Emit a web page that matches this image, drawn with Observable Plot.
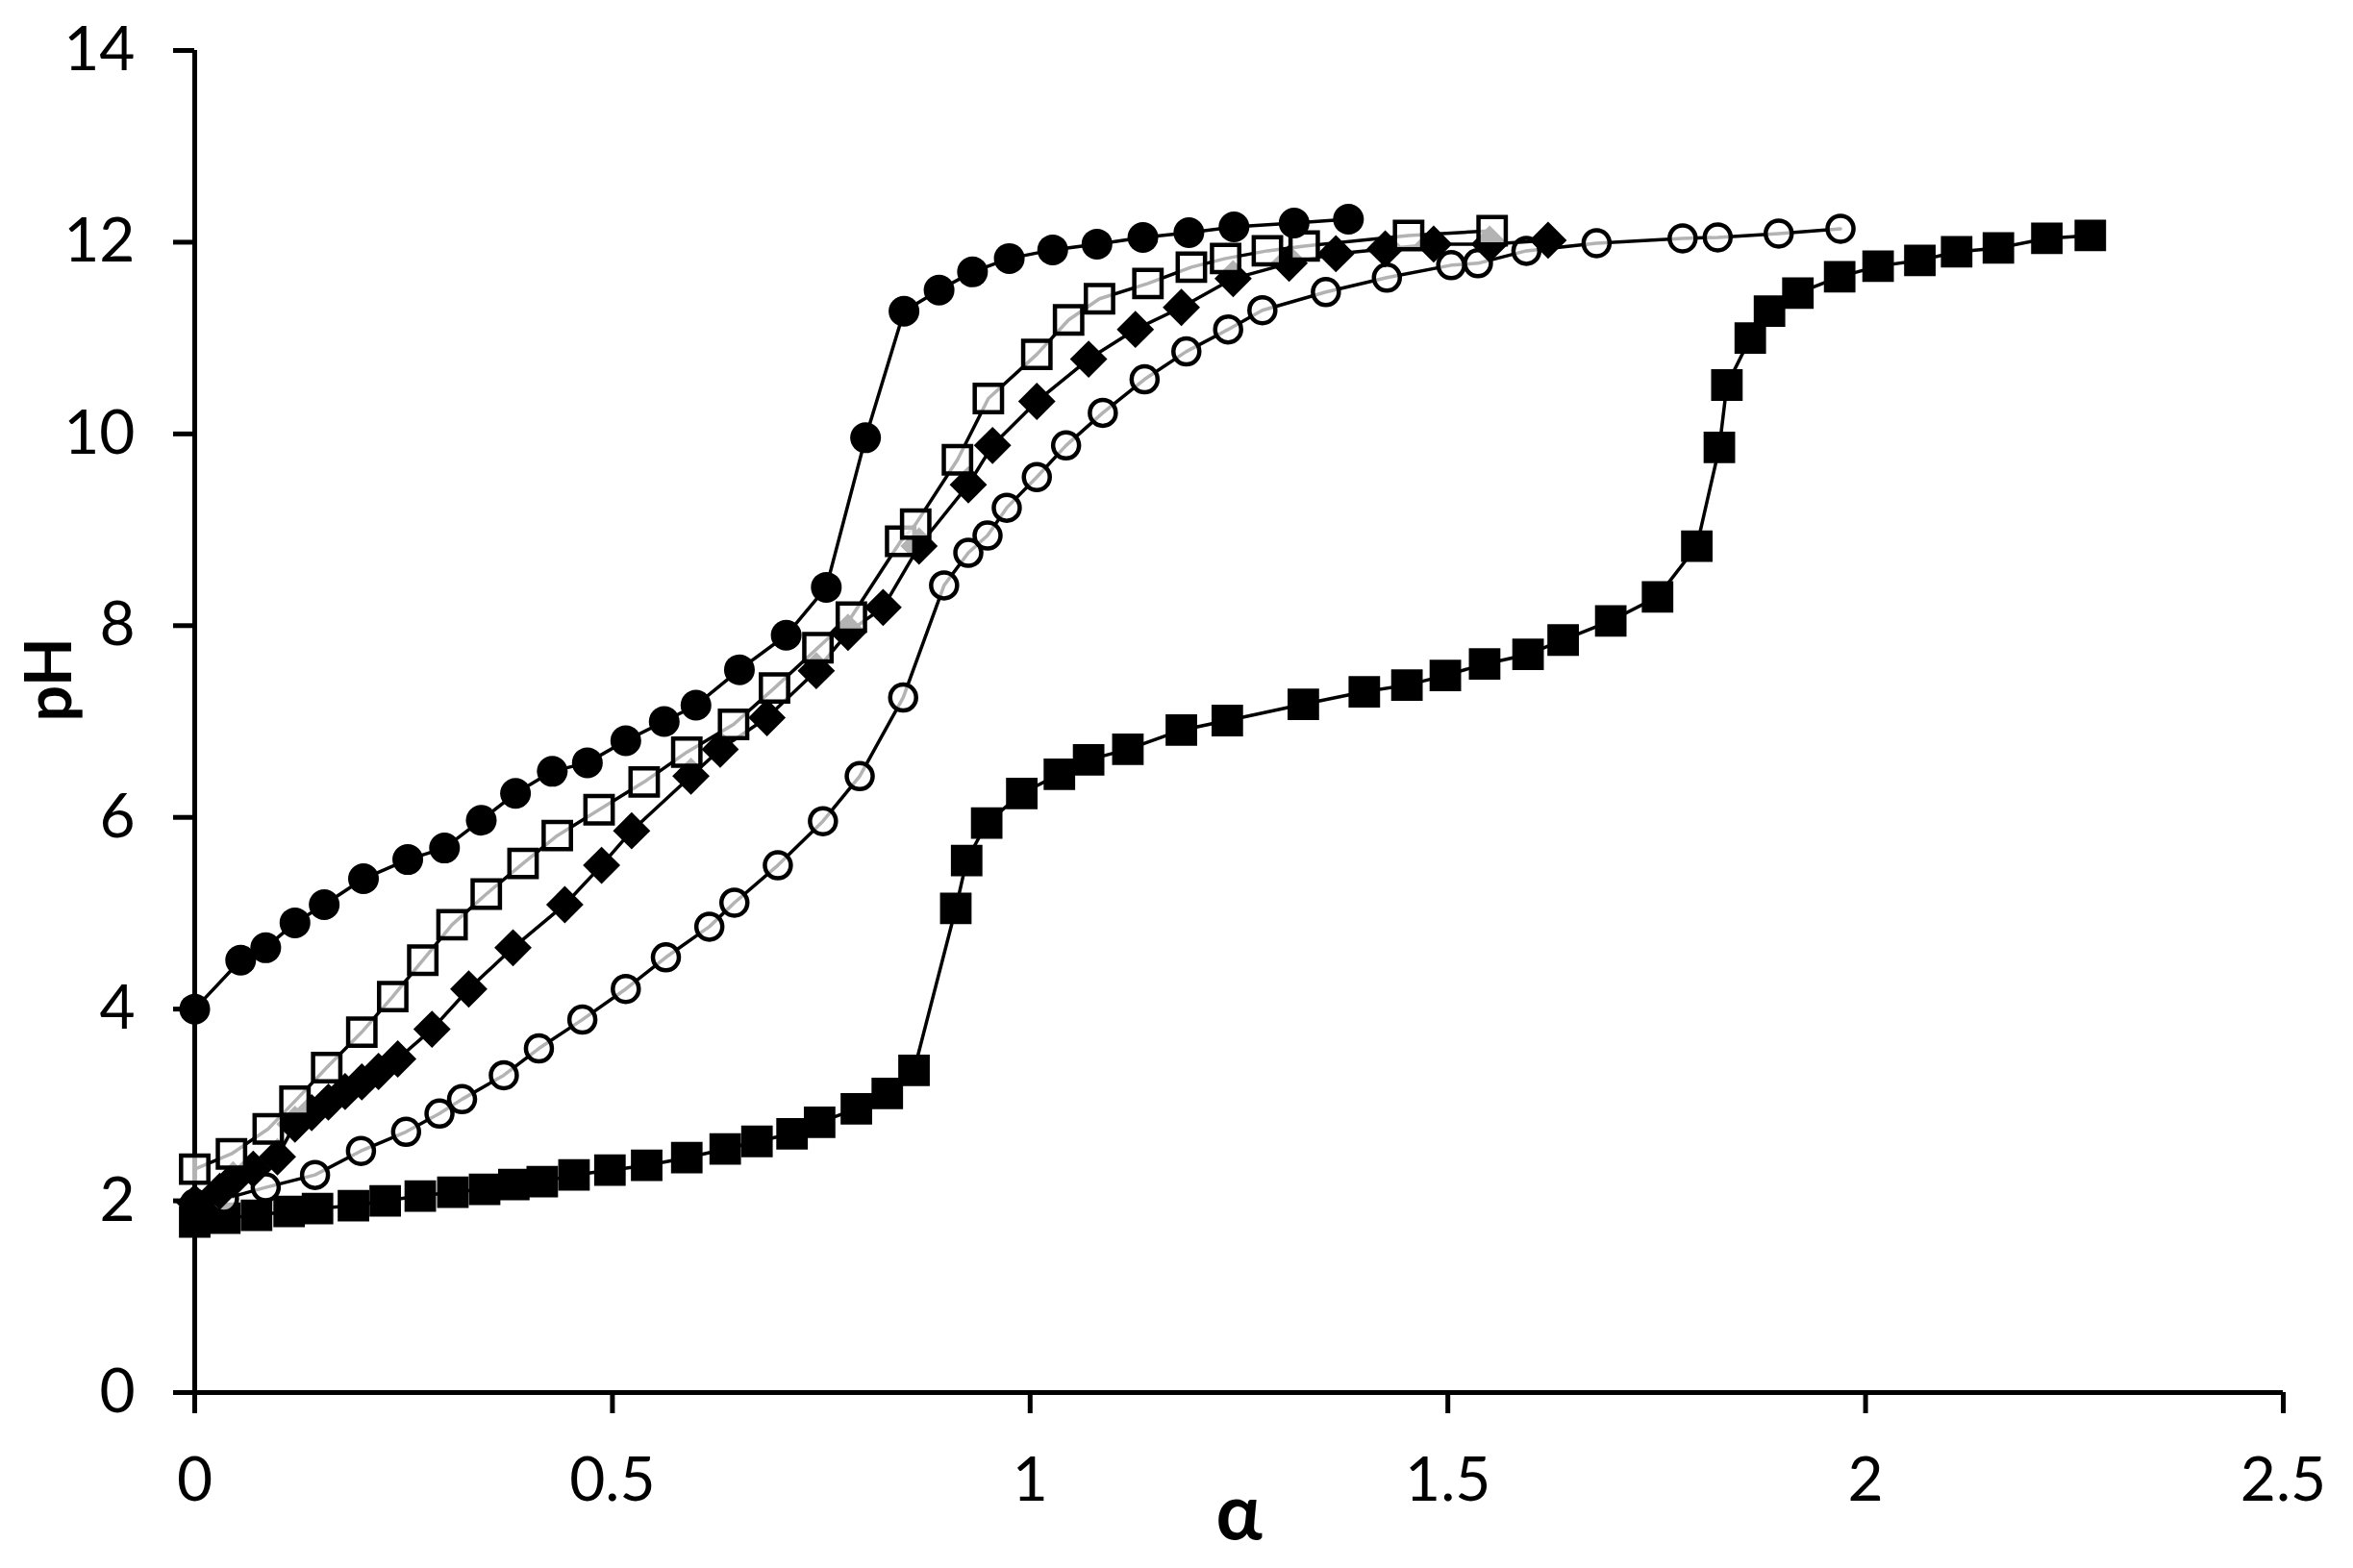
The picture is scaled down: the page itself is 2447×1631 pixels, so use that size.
<!DOCTYPE html>
<html>
<head>
<meta charset="utf-8">
<script src="https://cdn.jsdelivr.net/npm/d3@7"></script>
<script src="https://cdn.jsdelivr.net/npm/@observablehq/plot@0.6"></script>
<style>
  html, body { margin: 0; padding: 0; background: white; }
  #chart { width: 2447px; height: 1631px; }
</style>
</head>
<body>
<div id="chart"></div>
<script>
// ---- data ----
const xTicks = [0, 0.5, 1, 1.5, 2, 2.5];
const yTicks = [0, 2, 4, 6, 8, 10, 12, 14];

// filled circles
const alphaFilledCircle = [0, 0.055, 0.085, 0.12, 0.155, 0.202, 0.255, 0.299, 0.343, 0.384, 0.428, 0.47, 0.516, 0.562, 0.60, 0.652, 0.708, 0.756, 0.803, 0.849, 0.891, 0.931, 0.975, 1.027, 1.08, 1.135, 1.19, 1.244, 1.316, 1.381];
const phFilledCircle = [4.0, 4.51, 4.64, 4.9, 5.09, 5.36, 5.56, 5.68, 5.97, 6.25, 6.48, 6.57, 6.8, 7.0, 7.17, 7.54, 7.9, 8.4, 9.96, 11.28, 11.5, 11.69, 11.83, 11.92, 11.98, 12.05, 12.1, 12.16, 12.2, 12.24];

// open squares
const alphaOpenSquare = [0, 0.044, 0.088, 0.12, 0.158, 0.2, 0.237, 0.273, 0.308, 0.349, 0.393, 0.434, 0.484, 0.538, 0.589, 0.645, 0.694, 0.746, 0.786, 0.845, 0.863, 0.913, 0.950, 1.008, 1.046, 1.083, 1.141, 1.193, 1.234, 1.284, 1.328, 1.453, 1.553];
const phOpenSquare = [2.33, 2.49, 2.75, 3.04, 3.39, 3.76, 4.13, 4.51, 4.88, 5.2, 5.52, 5.81, 6.08, 6.37, 6.68, 6.97, 7.35, 7.77, 8.09, 8.88, 9.06, 9.73, 10.37, 10.83, 11.19, 11.41, 11.57, 11.74, 11.83, 11.91, 11.96, 12.07, 12.12];

// filled diamonds
const alphaDiamond = [0, 0.03, 0.046, 0.07, 0.099, 0.12, 0.14, 0.16, 0.18, 0.2, 0.22, 0.243, 0.284, 0.328, 0.381, 0.443, 0.487, 0.523, 0.594, 0.629, 0.685, 0.744, 0.782, 0.824, 0.867, 0.926, 0.955, 1.008, 1.07, 1.126, 1.181, 1.243, 1.31, 1.366, 1.425, 1.483, 1.55, 1.62];
const phDiamond = [1.98, 2.1, 2.22, 2.33, 2.46, 2.8, 2.92, 3.03, 3.14, 3.24, 3.35, 3.48, 3.79, 4.21, 4.64, 5.09, 5.5, 5.86, 6.43, 6.71, 7.04, 7.53, 7.93, 8.19, 8.83, 9.47, 9.88, 10.34, 10.78, 11.09, 11.32, 11.62, 11.78, 11.88, 11.93, 11.98, 11.98, 12.02];

// open circles
const alphaOpenCircle = [0, 0.035, 0.085, 0.144, 0.199, 0.253, 0.293, 0.32, 0.37, 0.412, 0.464, 0.516, 0.564, 0.616, 0.646, 0.698, 0.752, 0.796, 0.848, 0.897, 0.926, 0.949, 0.972, 1.008, 1.043, 1.087, 1.137, 1.187, 1.237, 1.278, 1.354, 1.427, 1.504, 1.536, 1.594, 1.678, 1.781, 1.823, 1.896, 1.97];
const phOpenCircle = [1.97, 2.02, 2.14, 2.27, 2.52, 2.72, 2.91, 3.06, 3.31, 3.59, 3.89, 4.21, 4.54, 4.86, 5.11, 5.5, 5.96, 6.43, 7.25, 8.42, 8.76, 8.94, 9.23, 9.55, 9.88, 10.22, 10.57, 10.86, 11.09, 11.29, 11.48, 11.63, 11.76, 11.78, 11.91, 11.99, 12.04, 12.05, 12.09, 12.14];

// filled squares
const alphaFilledSquare = [0, 0.036, 0.074, 0.113, 0.147, 0.19, 0.228, 0.27, 0.309, 0.347, 0.382, 0.416, 0.454, 0.497, 0.541, 0.589, 0.635, 0.673, 0.715, 0.748, 0.792, 0.829, 0.861, 0.911, 0.924, 0.948, 0.99, 1.035, 1.07, 1.117, 1.181, 1.236, 1.327, 1.40, 1.451, 1.497, 1.544, 1.596, 1.638, 1.695, 1.751, 1.798, 1.825, 1.834, 1.862, 1.885, 1.919, 1.969, 2.015, 2.065, 2.109, 2.159, 2.217, 2.269];
const phFilledSquare = [1.78, 1.82, 1.85, 1.89, 1.92, 1.95, 2.0, 2.05, 2.09, 2.12, 2.17, 2.2, 2.27, 2.32, 2.37, 2.45, 2.54, 2.62, 2.7, 2.82, 2.96, 3.12, 3.36, 5.05, 5.55, 5.94, 6.25, 6.45, 6.6, 6.71, 6.91, 7.01, 7.18, 7.31, 7.38, 7.48, 7.6, 7.7, 7.85, 8.05, 8.3, 8.83, 9.86, 10.51, 11.0, 11.28, 11.47, 11.64, 11.75, 11.81, 11.9, 11.94, 12.04, 12.07];

const toRows = (xs, ys) => xs.map((a, i) => ({alpha: a, pH: ys[i]}));

const filledCircle = toRows(alphaFilledCircle, phFilledCircle);
const openSquare = toRows(alphaOpenSquare, phOpenSquare);
const diamond = toRows(alphaDiamond, phDiamond);
const openCircle = toRows(alphaOpenCircle, phOpenCircle);
const filledSquare = toRows(alphaFilledSquare, phFilledSquare);

const lineOpts = {x: "alpha", y: "pH", stroke: "black", strokeWidth: 3.5};

const chart = Plot.plot({
  width: 2447,
  height: 1631,
  marginLeft: 202,
  marginRight: 73,
  marginTop: 52,
  marginBottom: 183,
  style: {fontFamily: "Lato, 'Open Sans', sans-serif", background: "white", color: "black"},
  x: {domain: [0, 2.5]},
  y: {domain: [0, 14]},
  marks: [
    Plot.axisX({ticks: xTicks, tickSize: 22, tickPadding: 45, fontSize: 64, strokeWidth: 5, label: null, tickFormat: d => String(d)}),
    Plot.axisY({ticks: yTicks, tickSize: 22, tickPadding: 40, fontSize: 64, strokeWidth: 5, label: null, tickFormat: d => String(d)}),
    Plot.ruleY([0], {strokeWidth: 5, stroke: "black"}),
    Plot.ruleX([0], {strokeWidth: 5, stroke: "black"}),

    Plot.line(filledSquare, lineOpts),
    Plot.dot(filledSquare, {x: "alpha", y: "pH", symbol: "square", r: 18.5, fill: "black"}),

    Plot.line(openCircle, lineOpts),
    Plot.dot(openCircle, {x: "alpha", y: "pH", symbol: "circle", r: 13.5, fill: "white", fillOpacity: 0.7, stroke: "black", strokeWidth: 4.5}),

    Plot.line(diamond, lineOpts),
    Plot.dot(diamond, {x: "alpha", y: "pH", symbol: "diamond2", r: 17.5, fill: "black"}),

    Plot.line(openSquare, lineOpts),
    Plot.dot(openSquare, {x: "alpha", y: "pH", symbol: "square", r: 16, fill: "white", fillOpacity: 0.7, stroke: "black", strokeWidth: 4.5}),

    Plot.line(filledCircle, lineOpts),
    Plot.dot(filledCircle, {x: "alpha", y: "pH", symbol: "circle", r: 16, fill: "black"}),

    Plot.text(["pH"], {text: d => d, frameAnchor: "left", dx: -150, rotate: -90, fontSize: 66, fontWeight: "bold", fill: "black"}),
    Plot.text(["α"], {text: d => d, frameAnchor: "bottom", dy: 152, fontSize: 80, fontWeight: "bold", fill: "black"})
  ]
});

document.getElementById("chart").appendChild(chart);
</script>
</body>
</html>
